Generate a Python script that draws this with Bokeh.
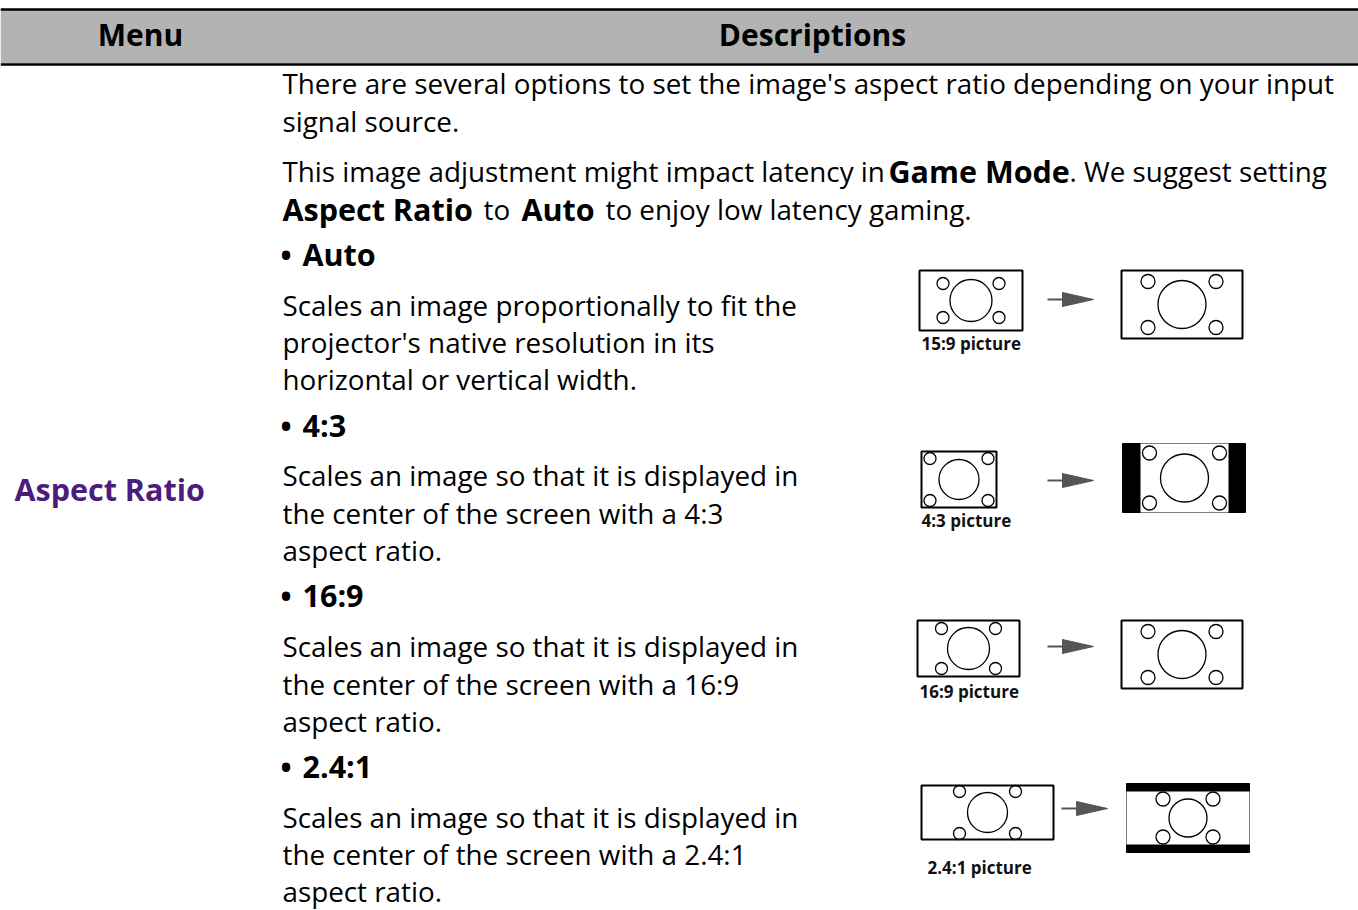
from bokeh.plotting import figure
from bokeh.models import Range1d
from bokeh.core.properties import value
from bokeh.embed import file_html
from bokeh.resources import INLINE

FONT = "Open Sans"
W, H = 1358, 910

# ---------- header ----------
header_titles = ["Menu", "Descriptions"]
header_x = [140, 812]

# ---------- menu label ----------
menu_label = "Aspect Ratio"

# ---------- body text segments: (x, y, text) ----------
normal_x = [282, 282, 282, 1069, 483, 605,
            282, 282, 282,
            282, 282, 282,
            282, 282, 282,
            282, 282, 282]
normal_y = [84, 122, 172, 172, 210, 210,
            306, 343, 380,
            476, 514, 551,
            647, 685, 722,
            818, 855, 892]
normal_t = ["There are several options to set the image's aspect ratio depending on your input",
            "signal source.",
            "This image adjustment might impact latency in ",
            ". We suggest setting",
            "to",
            "to enjoy low latency gaming.",
            "Scales an image proportionally to fit the",
            "projector's native resolution in its",
            "horizontal or vertical width.",
            "Scales an image so that it is displayed in",
            "the center of the screen with a 4:3",
            "aspect ratio.",
            "Scales an image so that it is displayed in",
            "the center of the screen with a 16:9",
            "aspect ratio.",
            "Scales an image so that it is displayed in",
            "the center of the screen with a 2.4:1",
            "aspect ratio."]
bullet_y = [255, 426, 596, 767]
bold_x = [888, 282, 521, 302, 302, 302, 302]
bold_y = [172, 210, 210, 255, 426, 596, 767]
bold_t = ["Game Mode", "Aspect Ratio", "Auto", "Auto", "4:3", "16:9", "2.4:1"]

# ---------- diagrams ----------
diag_labels = ["15:9 picture", "4:3 picture", "16:9 picture", "2.4:1 picture"]
label_x = [921, 921, 919, 927]
label_y = [343, 520, 691, 867]

# source frames (x0, x1, y0, y1)
src_x0 = [919, 921, 917, 921]
src_x1 = [1022, 996, 1019, 1053]
src_y0 = [270, 451, 620, 785]
src_y1 = [330, 507, 676, 839]
src_big_r = [21, 20, 21, 20]
src_small_dx = [28, 29, 27, 28]
src_small_dy = [17, 21, 20, 21]

# target frames (outer black / white area)
tgt_x0 = [1121, 1122, 1121, 1126]
tgt_x1 = [1242, 1245, 1242, 1249]
tgt_y0 = [270, 443, 620, 783]
tgt_y1 = [338, 512, 688, 852]
# white picture area inside target (for letter/pillar box)
pic_x0 = [1121, 1140, 1121, 1126]
pic_x1 = [1242, 1228, 1242, 1249]
pic_y0 = [270, 443, 620, 791]
pic_y1 = [338, 512, 688, 844]
tgt_big_r = [24, 24, 24, 19]
tgt_small_dx = [34, 35, 34, 25]
tgt_small_dy = [23, 25, 23, 19]
tgt_boxed = [False, True, False, True]

arrow_x0 = [1047, 1047, 1047, 1061]
arrow_y = [299, 480, 646, 808]

DY = -1.5  # small baseline correction for the font

p = figure(width=W, height=H, x_range=Range1d(0, W), y_range=Range1d(H, 0),
           output_backend="svg", toolbar_location=None, min_border=0,
           outline_line_color=None, background_fill_color="white")
p.axis.visible = False
p.grid.visible = False

# header band
p.quad(left=[0], right=[W], top=[9], bottom=[63], fill_color="#b3b3b3", line_color=None)
p.segment(x0=[0, 0], x1=[W, W], y0=[9, 64], y1=[9, 64], line_color="black", line_width=2.5)
p.text(x=header_x, y=[34, 34], text=header_titles, text_font=value(FONT), text_font_style="bold",
       text_font_size="30px", text_align="center", text_baseline="middle", text_color="black")

p.text(x=[14], y=[488], text=[menu_label], text_font=value(FONT), text_font_style="bold",
       text_font_size="30.5px", text_align="left", text_baseline="middle", text_color="#4c1d7d")

p.text(x=normal_x, y=[v + DY for v in normal_y], text=normal_t, text_font=value(FONT),
       text_font_size="27.8px", text_align="left", text_baseline="middle", text_color="black")
p.text(x=[278] * len(bullet_y), y=[v + DY for v in bullet_y], text=["\u2022"] * len(bullet_y),
       text_font=value(FONT), text_font_size="40px", text_align="left", text_baseline="middle",
       text_color="black")
p.text(x=bold_x, y=[v + DY for v in bold_y], text=bold_t, text_font=value(FONT),
       text_font_style="bold", text_font_size="30.5px", text_align="left",
       text_baseline="middle", text_color="black")

# diagrams
for i in range(4):
    # source
    cx = (src_x0[i] + src_x1[i]) / 2
    cy = (src_y0[i] + src_y1[i]) / 2
    p.quad(left=[src_x0[i]], right=[src_x1[i]], top=[src_y0[i]], bottom=[src_y1[i]],
           fill_color="white", line_color="black", line_width=2)
    p.ellipse(x=[cx], y=[cy], width=[2 * src_big_r[i]], height=[2 * src_big_r[i]],
              fill_color=None, line_color="black", line_width=1.3)
    dx, dy = src_small_dx[i], src_small_dy[i]
    p.ellipse(x=[cx - dx, cx + dx, cx - dx, cx + dx], y=[cy - dy, cy - dy, cy + dy, cy + dy],
              width=12, height=12, fill_color=None, line_color="black", line_width=1.3)
    p.text(x=[label_x[i]], y=[label_y[i]], text=[diag_labels[i]], text_font=value(FONT),
           text_font_style="bold", text_font_size="17px", text_align="left",
           text_baseline="middle", text_color="#111111")
    # arrow
    ax = arrow_x0[i]
    ay = arrow_y[i]
    p.segment(x0=[ax], x1=[ax + 18], y0=[ay], y1=[ay], line_color="#555555", line_width=2)
    p.patch(x=[ax + 15, ax + 46, ax + 15], y=[ay - 7, ay, ay + 7], fill_color="#555555",
            line_color="#555555")
    # target
    if tgt_boxed[i]:
        p.quad(left=[tgt_x0[i]], right=[tgt_x1[i]], top=[tgt_y0[i]], bottom=[tgt_y1[i]],
               fill_color="black", line_color="black", line_width=1)
        p.quad(left=[pic_x0[i]], right=[pic_x1[i]], top=[pic_y0[i]], bottom=[pic_y1[i]],
               fill_color="white", line_color=None)
    else:
        p.quad(left=[tgt_x0[i]], right=[tgt_x1[i]], top=[tgt_y0[i]], bottom=[tgt_y1[i]],
               fill_color="white", line_color="black", line_width=2)
    tx = (pic_x0[i] + pic_x1[i]) / 2
    ty = (pic_y0[i] + pic_y1[i]) / 2
    p.ellipse(x=[tx], y=[ty], width=[2 * tgt_big_r[i]], height=[2 * tgt_big_r[i]],
              fill_color=None, line_color="black", line_width=1.3)
    dx, dy = tgt_small_dx[i], tgt_small_dy[i]
    p.ellipse(x=[tx - dx, tx + dx, tx - dx, tx + dx], y=[ty - dy, ty - dy, ty + dy, ty + dy],
              width=14, height=14, fill_color=None, line_color="black", line_width=1.3)

open("out.html", "w").write(file_html(p, INLINE))
